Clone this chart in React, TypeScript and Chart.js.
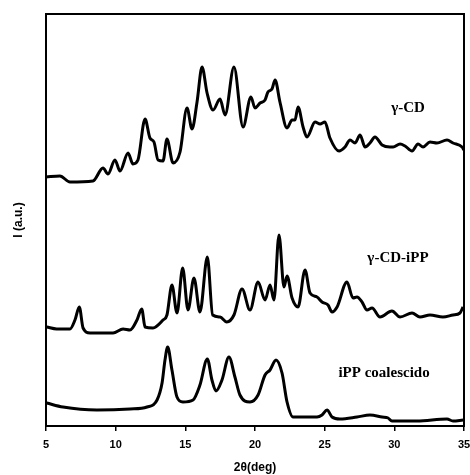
import React, { useEffect, useRef } from "react";
import { Chart, registerables } from "chart.js";

Chart.register(...registerables);

// 2θ (deg) and intensity (a.u.) for each pattern
const gcdTheta = [5.0, 6.0, 6.72, 8.37, 9.09, 9.45, 9.95, 10.31, 10.89, 11.24, 11.6, 12.11, 12.46, 12.75, 13.04, 13.4, 13.68, 14.12, 14.62, 15.12, 15.48, 15.84, 16.2, 16.56, 16.99, 17.49, 17.85, 18.49, 19.14, 19.71, 20.0, 20.36, 20.72, 20.93, 21.22, 21.44, 21.79, 22.3, 22.66, 22.87, 23.09, 23.45, 23.73, 24.31, 24.67, 25.02, 25.38, 26.03, 26.46, 26.82, 27.18, 27.54, 27.9, 28.25, 28.61, 29.12, 29.69, 29.91, 30.41, 30.77, 31.27, 31.7, 32.06, 32.56, 33.06, 33.78, 34.21, 34.86, 35.0];
const gcdI = [249, 250, 244, 245, 258, 252, 266, 255, 273, 262, 266, 307, 288, 284, 266, 265, 287, 263, 274, 318, 297, 324, 359, 333, 316, 327, 311, 359, 299, 329, 318, 323, 326, 334, 337, 346, 324, 298, 306, 306, 319, 299, 289, 304, 302, 304, 288, 275, 279, 286, 283, 291, 279, 283, 289, 281, 279, 279, 282, 280, 275, 282, 279, 284, 283, 286, 283, 279, 276];

const gcdIppTheta = [5.05, 5.77, 6.72, 7.08, 7.39, 7.66, 8.16, 9.81, 10.53, 11.03, 11.53, 11.87, 12.11, 12.68, 13.4, 13.68, 14.04, 14.4, 14.81, 15.19, 15.62, 16.05, 16.58, 16.96, 17.49, 17.97, 18.49, 19.07, 19.64, 20.22, 20.72, 21.08, 21.36, 21.72, 22.08, 22.3, 22.66, 23.09, 23.59, 23.95, 24.45, 24.81, 25.24, 25.53, 25.89, 26.6, 27.03, 27.32, 27.68, 28.04, 28.4, 28.97, 29.83, 30.41, 31.27, 31.84, 32.56, 33.49, 34.21, 34.71, 34.93];
const gcdIppI = [99, 97, 97, 106, 119, 98, 93, 93, 97, 96, 106, 117, 99, 98, 106, 111, 141, 113, 158, 116, 148, 114, 169, 111, 109, 104, 111, 137, 116, 144, 126, 141, 126, 191, 139, 150, 128, 119, 156, 133, 129, 124, 121, 114, 119, 144, 128, 129, 124, 116, 118, 109, 115, 109, 113, 109, 111, 109, 111, 113, 119];

const ippTheta = [5.05, 6.22, 8.66, 11.03, 12.25, 12.97, 13.33, 13.54, 13.73, 14.04, 14.4, 14.83, 15.55, 16.05, 16.58, 16.91, 17.2, 17.63, 18.13, 18.56, 18.92, 19.64, 20.22, 20.72, 21.08, 21.51, 21.94, 22.3, 22.73, 24.45, 24.81, 25.17, 25.53, 26.1, 27.32, 28.25, 29.12, 29.55, 29.83, 31.63, 33.78, 34.21, 34.93];
const ippI = [23, 19, 16, 17, 19, 26, 43, 66, 79, 56, 29, 24, 26, 41, 67, 46, 35, 46, 69, 49, 31, 24, 31, 51, 56, 66, 53, 24, 9, 9, 11, 16, 9, 7, 9, 11, 9, 8, 5, 5, 7, 5, 6];

const xTicks = [5, 10, 15, 20, 25, 30, 35];

const seriesLabels = ["γ-CD", "γ-CD-iPP", "iPP coalescido"];
const labelTheta = [30.98, 30.26, 29.26];
const labelI = [318, 168, 53];

const toPoints = (xs: number[], ys: number[]) => xs.map((x, i) => ({ x, y: ys[i] }));

export default function App() {
  const ref = useRef<HTMLCanvasElement | null>(null);

  useEffect(() => {
    document.body.style.margin = "0";
    const canvas = ref.current;
    if (!canvas) return;

    const framePlugin = {
      id: "frameAndLabels",
      afterDraw(chart: any) {
        const { ctx, chartArea, scales } = chart;
        ctx.save();
        ctx.strokeStyle = "#000";
        ctx.lineWidth = 2;
        ctx.strokeRect(chartArea.left, chartArea.top, chartArea.right - chartArea.left, chartArea.bottom - chartArea.top);
        ctx.fillStyle = "#000";
        ctx.font = "bold 15px 'Liberation Serif', 'Times New Roman', serif";
        ctx.textAlign = "center";
        ctx.textBaseline = "middle";
        seriesLabels.forEach((t, i) => {
          ctx.fillText(t, scales.x.getPixelForValue(labelTheta[i]), scales.y.getPixelForValue(labelI[i]));
        });
        ctx.restore();
      },
    };

    const mk = (label: string, xs: number[], ys: number[]) => ({
      label,
      data: toPoints(xs, ys),
      borderColor: "#000",
      borderWidth: 3,
      pointRadius: 0,
      fill: false,
      cubicInterpolationMode: "monotone" as const,
    });

    const chart = new Chart(canvas, {
      type: "line",
      data: {
        datasets: [
          mk(seriesLabels[0], gcdTheta, gcdI),
          mk(seriesLabels[1], gcdIppTheta, gcdIppI),
          mk(seriesLabels[2], ippTheta, ippI),
        ],
      },
      options: {
        responsive: false,
        animation: false,
        layout: { padding: { top: 14, right: 6, left: 0, bottom: 0 } },
        plugins: { legend: { display: false }, tooltip: { enabled: false } },
        scales: {
          x: {
            type: "linear",
            min: 5,
            max: 35,
            afterFit: (s: any) => { s.height = 49; s.paddingRight = 0; s.paddingLeft = 0; },
            afterBuildTicks: (s: any) => { s.ticks = xTicks.map((v) => ({ value: v })); },
            ticks: {
              color: "#000",
              padding: 7,
              font: { family: "'Liberation Sans', Arial, sans-serif", size: 11, weight: "bold" },
            },
            grid: { display: true, drawOnChartArea: false, drawTicks: true, tickLength: 5, color: "#000", lineWidth: 1.5 },
            border: { display: true, color: "#000", width: 2 },
            title: {
              display: true,
              text: "2θ(deg)",
              color: "#000",
              font: { family: "'Liberation Sans', Arial, sans-serif", size: 12, weight: "bold" },
              padding: { top: 0, bottom: 0 },
            },
          },
          y: {
            min: 0,
            max: 412,
            afterFit: (s: any) => { s.width = 46; },
            ticks: { display: false },
            grid: { display: false },
            border: { display: true, color: "#000", width: 2 },
            title: {
              display: true,
              text: "I (a.u.)",
              color: "#000",
              font: { family: "'Liberation Sans', Arial, sans-serif", size: 12, weight: "bold" },
              padding: { top: 11, bottom: 0 },
            },
          },
        },
      },
      plugins: [framePlugin],
    });
    return () => chart.destroy();
  }, []);

  return (
    <div style={{ position: "absolute", left: 0, top: 0, width: 470, height: 475, background: "#fff" }}>
      <canvas ref={ref} width={470} height={475} />
    </div>
  );
}
